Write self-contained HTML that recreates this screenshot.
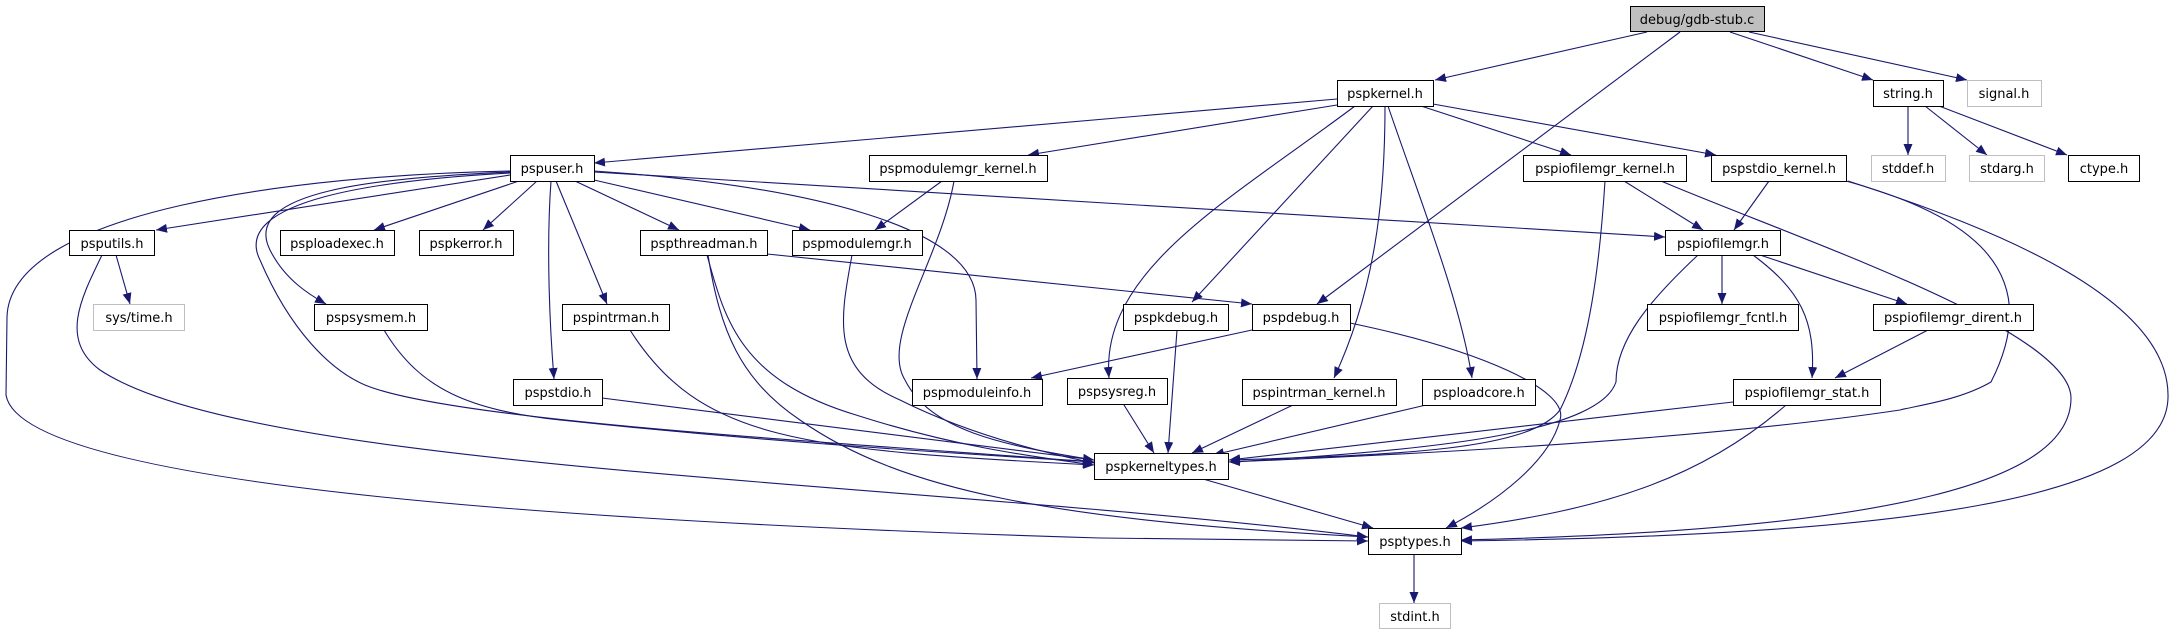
<!DOCTYPE html>
<html><head><meta charset="utf-8"><style>
html,body{margin:0;padding:0;background:#fff;}
svg{display:block;}
text{font-family:"DejaVu Sans","Liberation Sans",sans-serif;font-size:13px;fill:#000;}
.e{fill:none;stroke:#191970;stroke-width:1.1;}
</style></head><body>
<svg width="2177" height="635" viewBox="0 0 2177 635" xmlns="http://www.w3.org/2000/svg">
<defs>
<marker id="a" markerUnits="userSpaceOnUse" markerWidth="12" markerHeight="10" refX="11" refY="4.5" orient="auto">
<path d="M0,0 L11,4.5 L0,9 Z" fill="#191970"/>
</marker>
</defs>
<g marker-end="url(#a)">
<path class="e" d="M1647,32 L1435,80"/>
<path class="e" d="M1680,32 L1317,304"/>
<path class="e" d="M1730,32 L1873,80"/>
<path class="e" d="M1749,32 L1967,80"/>
<path class="e" d="M1337,99 L594,163"/>
<path class="e" d="M1337,105 L1028,155"/>
<path class="e" d="M1421,106 L1571,155"/>
<path class="e" d="M1433,104 L1716,155"/>
<path class="e" d="M1373,106 L1192,302"/>
<path class="e" d="M1355,106 C1230,200 1100,270 1109,378"/>
<path class="e" d="M1385,106 C1385,200 1375,290 1334,378"/>
<path class="e" d="M1388,106 C1420,200 1460,300 1472,378"/>
<path class="e" d="M1908,106 L1908,155"/>
<path class="e" d="M1925,106 L1987,155"/>
<path class="e" d="M1939,106 L2067,155"/>
<path class="e" d="M510,175 L156,230"/>
<path class="e" d="M519,181 L374,230"/>
<path class="e" d="M537,181 L483,230"/>
<path class="e" d="M575,181 L679,230"/>
<path class="e" d="M594,180 L810,230"/>
<path class="e" d="M594,172 L1665,237"/>
<path class="e" d="M510,172 C380,178 240,190 270,250 C285,280 310,295 326,304"/>
<path class="e" d="M510,173 C380,180 230,200 260,260 C290,330 330,370 365,385 C450,420 800,440 1094,462"/>
<path class="e" d="M510,171 C300,175 10,210 7,317 L6,395 C20,480 500,520 1100,538 L1368,541"/>
<path class="e" d="M556,181 L607,304"/>
<path class="e" d="M551,181 C546,250 550,330 554,379"/>
<path class="e" d="M594,171 C800,185 975,225 976,300 L977,379"/>
<path class="e" d="M116,255 L130,304"/>
<path class="e" d="M102,255 C80,300 60,340 100,370 C250,470 900,480 1368,537"/>
<path class="e" d="M384,330 C420,390 470,410 560,420 C750,440 900,450 1094,462"/>
<path class="e" d="M630,330 C700,440 800,450 1094,465"/>
<path class="e" d="M602,398 L1094,460"/>
<path class="e" d="M707,255 C725,320 740,380 856,415 C950,445 1020,455 1094,465"/>
<path class="e" d="M708,255 C720,330 740,380 800,420 C900,490 1050,520 1368,537"/>
<path class="e" d="M767,254 L1252,304"/>
<path class="e" d="M852,255 C840,320 830,370 900,400 C960,430 1030,450 1094,463"/>
<path class="e" d="M954,181 C940,260 880,340 905,380 C930,430 1000,445 1094,460"/>
<path class="e" d="M942,181 L875,230"/>
<path class="e" d="M1252,330 L1031,378"/>
<path class="e" d="M1350,323 C1480,350 1570,390 1560,420 C1550,460 1500,500 1446,528"/>
<path class="e" d="M1177,330 L1168,453"/>
<path class="e" d="M1124,405 L1154,453"/>
<path class="e" d="M1293,405 L1192,453"/>
<path class="e" d="M1426,405 L1213,455"/>
<path class="e" d="M1624,181 L1703,230"/>
<path class="e" d="M1769,181 L1734,230"/>
<path class="e" d="M1605,181 C1600,260 1590,350 1560,410 C1530,450 1400,455 1229,460"/>
<path class="e" d="M1661,181 C1800,240 2071,330 2071,398 C2071,480 1900,530 1461,540"/>
<path class="e" d="M1846,181 C1950,210 2053,260 1991,382 C1960,400 1920,405 1900,410 C1700,440 1400,455 1229,462"/>
<path class="e" d="M1848,181 C2000,230 2171,300 2168,398 C2165,500 1900,535 1461,541"/>
<path class="e" d="M1698,255 C1650,300 1616,340 1616,382 C1600,430 1450,450 1229,462"/>
<path class="e" d="M1722,255 L1722,304"/>
<path class="e" d="M1760,255 L1907,304"/>
<path class="e" d="M1753,255 C1800,290 1816,320 1812,378"/>
<path class="e" d="M1928,330 L1835,378"/>
<path class="e" d="M1733,402 L1229,460"/>
<path class="e" d="M1786,405 C1700,480 1600,510 1461,528"/>
<path class="e" d="M1203,479 L1373,528"/>
<path class="e" d="M1414,554 L1414,603"/>
</g>
<g stroke="#000" stroke-width="1" fill="#fff">
<rect x="1630.5" y="6.5" width="134" height="25" fill="#bfbfbf"/>
<rect x="1337.5" y="80.5" width="96" height="26"/>
<rect x="1873.5" y="80.5" width="70" height="26"/>
<rect x="1967.5" y="80.5" width="74" height="26" stroke="#bfbfbf"/>
<rect x="510.5" y="155.5" width="84" height="26"/>
<rect x="869.5" y="155.5" width="178" height="26"/>
<rect x="1523.5" y="155.5" width="163" height="26"/>
<rect x="1711.5" y="155.5" width="135" height="26"/>
<rect x="1871.5" y="155.5" width="74" height="26" stroke="#bfbfbf"/>
<rect x="1969.5" y="155.5" width="75" height="26" stroke="#bfbfbf"/>
<rect x="2068.5" y="155.5" width="71" height="26"/>
<rect x="69.5" y="230.5" width="85" height="25"/>
<rect x="280.5" y="230.5" width="114" height="25"/>
<rect x="419.5" y="230.5" width="94" height="25"/>
<rect x="640.5" y="230.5" width="127" height="25"/>
<rect x="792.5" y="230.5" width="130" height="25"/>
<rect x="1665.5" y="230.5" width="115" height="25"/>
<rect x="93.5" y="304.5" width="91" height="26" stroke="#bfbfbf"/>
<rect x="314.5" y="304.5" width="113" height="26"/>
<rect x="562.5" y="304.5" width="107" height="26"/>
<rect x="1123.5" y="304.5" width="105" height="26"/>
<rect x="1252.5" y="304.5" width="98" height="26"/>
<rect x="1647.5" y="304.5" width="151" height="26"/>
<rect x="1873.5" y="304.5" width="160" height="26"/>
<rect x="513.5" y="379.5" width="89" height="26"/>
<rect x="912.5" y="379.5" width="130" height="26"/>
<rect x="1067.5" y="378.5" width="100" height="26"/>
<rect x="1242.5" y="379.5" width="154" height="26"/>
<rect x="1422.5" y="379.5" width="113" height="26"/>
<rect x="1733.5" y="379.5" width="147" height="26"/>
<rect x="1094.5" y="453.5" width="134" height="26"/>
<rect x="1368.5" y="528.5" width="93" height="26"/>
<rect x="1379.5" y="603.5" width="71" height="25" stroke="#bfbfbf"/>
</g>
<g text-anchor="middle">
<text x="1697" y="24">debug/gdb-stub.c</text>
<text x="1385" y="98">pspkernel.h</text>
<text x="1908" y="98">string.h</text>
<text x="2004" y="98">signal.h</text>
<text x="552" y="173">pspuser.h</text>
<text x="958" y="173">pspmodulemgr_kernel.h</text>
<text x="1605" y="173">pspiofilemgr_kernel.h</text>
<text x="1779" y="173">pspstdio_kernel.h</text>
<text x="1908" y="173">stddef.h</text>
<text x="2007" y="173">stdarg.h</text>
<text x="2104" y="173">ctype.h</text>
<text x="112" y="248">psputils.h</text>
<text x="337" y="248">psploadexec.h</text>
<text x="466" y="248">pspkerror.h</text>
<text x="704" y="248">pspthreadman.h</text>
<text x="857" y="248">pspmodulemgr.h</text>
<text x="1723" y="248">pspiofilemgr.h</text>
<text x="139" y="322">sys/time.h</text>
<text x="371" y="322">pspsysmem.h</text>
<text x="616" y="322">pspintrman.h</text>
<text x="1176" y="322">pspkdebug.h</text>
<text x="1301" y="322">pspdebug.h</text>
<text x="1723" y="322">pspiofilemgr_fcntl.h</text>
<text x="1953" y="322">pspiofilemgr_dirent.h</text>
<text x="558" y="397">pspstdio.h</text>
<text x="977" y="397">pspmoduleinfo.h</text>
<text x="1117" y="396">pspsysreg.h</text>
<text x="1319" y="397">pspintrman_kernel.h</text>
<text x="1479" y="397">psploadcore.h</text>
<text x="1807" y="397">pspiofilemgr_stat.h</text>
<text x="1161" y="471">pspkerneltypes.h</text>
<text x="1415" y="546">psptypes.h</text>
<text x="1415" y="621">stdint.h</text>
</g>
</svg>
</body></html>
